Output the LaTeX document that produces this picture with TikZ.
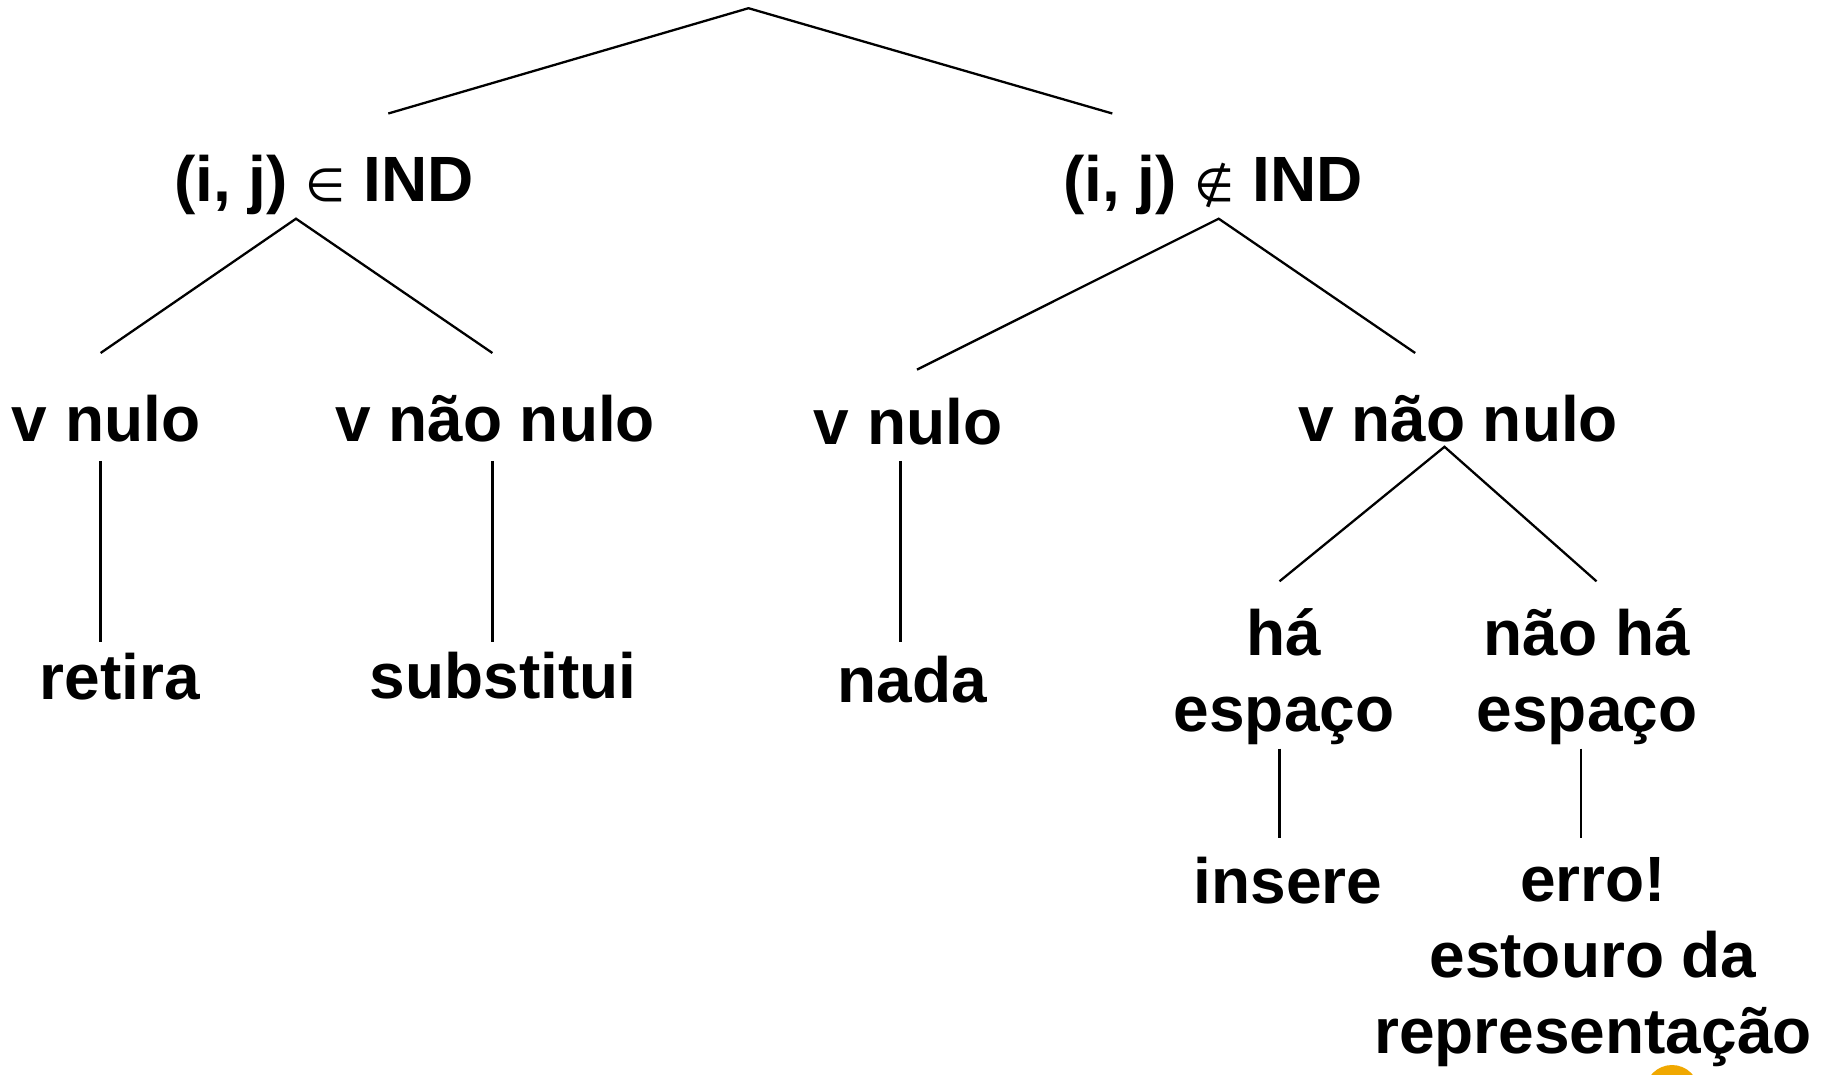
\documentclass[tikz,border=0pt]{standalone}
\usepackage{fontspec}
\setmainfont{Liberation Sans}
\newfontfamily\symfont{DejaVu Sans}
\definecolor{blob}{RGB}{240,168,0}
\begin{document}
\begin{tikzpicture}[x=1pt,y=-1pt,
  lbl/.style={font=\fontsize{64}{76}\selectfont\bfseries, anchor=base, inner sep=0pt, align=center},
  edge/.style={line width=2.3pt, line cap=butt}]
\clip (0,0) rectangle (1834,1074);
\fill[white] (0,0) rectangle (1834,1074);
% text nodes (multi-line nodes are anchored at the baseline of their last line)
\node[lbl] (in)    at (324,201)  {(i, j) {\symfont\mdseries\fontsize{46}{50}\selectfont ∈} IND};
\node[lbl] (notin) at (1213,201) {(i, j) {\symfont\mdseries\fontsize{46}{50}\selectfont ∉} IND};
\node[lbl] (vn1)   at (106,441)  {v nulo};
\node[lbl] (vnn1)  at (495,441)  {v não nulo};
\node[lbl] (vn2)   at (908,444)  {v nulo};
\node[lbl] (vnn2)  at (1458,441) {v não nulo};
\node[lbl] (ret)   at (120,699)  {retira};
\node[lbl] (subs)  at (503,698)  {substitui};
\node[lbl] (nada)  at (912,702)  {nada};
\node[lbl] (ha)    at (1284,731) {há\\espaço};
\node[lbl] (nha)   at (1587,731) {não há\\espaço};
\node[lbl] (ins)   at (1288,903) {insere};
\node[lbl] (erro)  at (1593,1053) {erro!\\estouro da\\representação};
% connector end points
\coordinate (root) at (748.5,8.2);
\coordinate (inT)  at (388.3,113.5);
\coordinate (notinT) at (1112.3,113.5);
\coordinate (inB)  at (296,218.7);
\coordinate (vn1T) at (100.6,353);
\coordinate (vnn1T) at (492.4,353);
\coordinate (notinB) at (1218.7,218.7);
\coordinate (vn2T) at (917,369.6);
\coordinate (vnn2T) at (1415.2,353);
\coordinate (vn1B) at (100.6,460.8);
\coordinate (retT) at (100.6,642);
\coordinate (vnn1B) at (492.4,460.8);
\coordinate (subsT) at (492.4,642);
\coordinate (vn2B) at (900.6,460.8);
\coordinate (nadaT) at (900.6,642);
\coordinate (vnn2B) at (1444.5,446.8);
\coordinate (haT) at (1279.5,581.3);
\coordinate (nhaT) at (1596.5,581.3);
\coordinate (haB) at (1279.5,748.6);
\coordinate (insT) at (1279.5,837.5);
\coordinate (nhaB) at (1581.3,748.6);
\coordinate (erroT) at (1581.3,837.5);
% connectors
\draw[edge] (inT) -- (root) -- (notinT);
\draw[edge] (vn1T) -- (inB) -- (vnn1T);
\draw[edge] (vn2T) -- (notinB) -- (vnn2T);
\draw[edge] (vn1B) -- (retT);
\draw[edge] (vnn1B) -- (subsT);
\draw[edge] (vn2B) -- (nadaT);
\draw[edge] (haT) -- (vnn2B) -- (nhaT);
\draw[edge] (haB) -- (insT);
\draw[edge] (nhaB) -- (erroT);
% partial orange dot at the bottom edge
\fill[blob] (1672,1092) circle (27);
\end{tikzpicture}
\end{document}
